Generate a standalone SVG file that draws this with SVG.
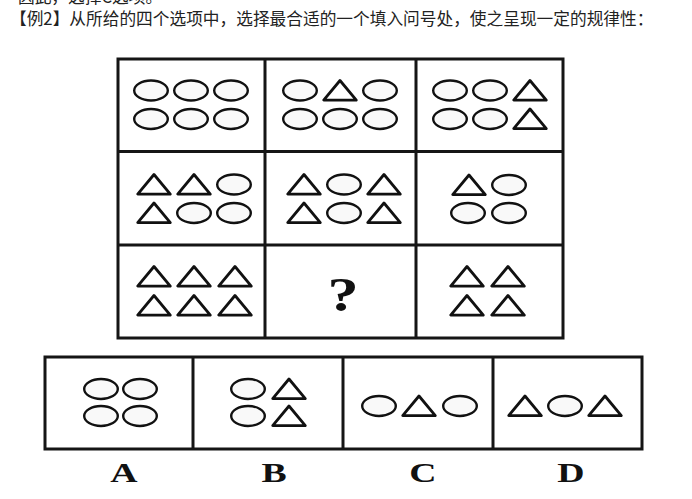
<svg xmlns="http://www.w3.org/2000/svg" width="692" height="499" viewBox="0 0 692 499">
<style>
.bg{fill:#ffffff}
.cap{font-family:"Noto Sans CJK SC","Noto Sans",sans-serif;font-size:16.7px;fill:#222}
.frame{fill:none;stroke:#151515;stroke-width:3}
.line{stroke:#151515;stroke-width:3}
.o{fill:#f9f9f9;stroke:#111;stroke-width:2.4}
.t{fill:#ffffff;stroke:#111;stroke-width:2.8;stroke-linejoin:round}
.lbl{font-family:"Liberation Serif","Times New Roman",serif;font-weight:bold;font-size:27px;fill:#111;text-anchor:middle}
.q{font-family:"Liberation Serif","Times New Roman",serif;font-weight:bold;font-size:48px;fill:#111;text-anchor:middle}
</style>
<defs>
<ellipse id="o" class="o" rx="16.8" ry="10" cx="0" cy="0"/>
<path id="t" class="t" d="M-16.3,9.6 L0,-10 L16.3,9.6 Z"/>
</defs>
<rect class="bg" x="0" y="0" width="692" height="499"/>
<g id="caption">
<text class="cap" x="18" y="3">因此，选择C选项。</text>
<text class="cap" x="10" y="25">【例2】从所给的四个选项中，选择最合适的一个填入问号处，使之呈现一定的规律性：</text>
</g>
<g id="grid">
<rect class="frame" x="118" y="59" width="445" height="279"/>
<line class="line" x1="265" y1="59" x2="265" y2="338"/>
<line class="line" x1="416" y1="59" x2="416" y2="338"/>
<line class="line" x1="118" y1="151.5" x2="563" y2="151.5"/>
<line class="line" x1="118" y1="245" x2="563" y2="245"/>
</g>
<g id="cell-1-1">
<use href="#o" x="151" y="90.5"/><use href="#o" x="191" y="90.5"/><use href="#o" x="231" y="90.5"/>
<use href="#o" x="151" y="119"/><use href="#o" x="191" y="119"/><use href="#o" x="231" y="119"/>
</g>
<g id="cell-1-2">
<use href="#o" x="300" y="90.5"/><use href="#t" x="340" y="90.5"/><use href="#o" x="380" y="90.5"/>
<use href="#o" x="300" y="119"/><use href="#o" x="340" y="119"/><use href="#o" x="380" y="119"/>
</g>
<g id="cell-1-3">
<use href="#o" x="450" y="90.5"/><use href="#o" x="490" y="90.5"/><use href="#t" x="530" y="90.5"/>
<use href="#o" x="450" y="119"/><use href="#o" x="490" y="119"/><use href="#t" x="530" y="119"/>
</g>
<g id="cell-2-1">
<use href="#t" x="154" y="184.5"/><use href="#t" x="194" y="184.5"/><use href="#o" x="234" y="184.5"/>
<use href="#t" x="154" y="213"/><use href="#o" x="194" y="213"/><use href="#o" x="234" y="213"/>
</g>
<g id="cell-2-2">
<use href="#t" x="304" y="184.5"/><use href="#o" x="344" y="184.5"/><use href="#t" x="384" y="184.5"/>
<use href="#t" x="304" y="213"/><use href="#o" x="344" y="213"/><use href="#t" x="384" y="213"/>
</g>
<g id="cell-2-3">
<use href="#t" x="469" y="185"/><use href="#o" x="509" y="185"/>
<use href="#o" x="468" y="213"/><use href="#o" x="509" y="213"/>
</g>
<g id="cell-3-1">
<use href="#t" x="154" y="276.5"/><use href="#t" x="194" y="276.5"/><use href="#t" x="235" y="276.5"/>
<use href="#t" x="154" y="305.5"/><use href="#t" x="194" y="305.5"/><use href="#t" x="235" y="305.5"/>
</g>
<g id="cell-3-2">
<text class="q" transform="translate(343,311) scale(1.3,1)">?</text>
</g>
<g id="cell-3-3">
<use href="#t" x="467" y="276.5"/><use href="#t" x="508" y="276.5"/>
<use href="#t" x="467" y="305.5"/><use href="#t" x="508" y="305.5"/>
</g>
<g id="options-frame">
<rect class="frame" x="45" y="357" width="597" height="92"/>
<line class="line" x1="193" y1="357" x2="193" y2="449"/>
<line class="line" x1="343" y1="357" x2="343" y2="449"/>
<line class="line" x1="493" y1="357" x2="493" y2="449"/>
</g>
<g id="option-A">
<use href="#o" x="101" y="389"/><use href="#o" x="140" y="389"/>
<use href="#o" x="101" y="416"/><use href="#o" x="140" y="416"/>
<text class="lbl" transform="translate(124,482) scale(1.4,1)">A</text>
</g>
<g id="option-B">
<use href="#o" x="248" y="389"/><use href="#t" x="289" y="389"/>
<use href="#o" x="248" y="416"/><use href="#t" x="289" y="416"/>
<text class="lbl" transform="translate(274,482) scale(1.4,1)">B</text>
</g>
<g id="option-C">
<use href="#o" x="379" y="406"/><use href="#t" x="419" y="406"/><use href="#o" x="460" y="406"/>
<text class="lbl" transform="translate(423,482) scale(1.4,1)">C</text>
</g>
<g id="option-D">
<use href="#t" x="525" y="406"/><use href="#o" x="565" y="406"/><use href="#t" x="605" y="406"/>
<text class="lbl" transform="translate(571,482) scale(1.4,1)">D</text>
</g>
</svg>
